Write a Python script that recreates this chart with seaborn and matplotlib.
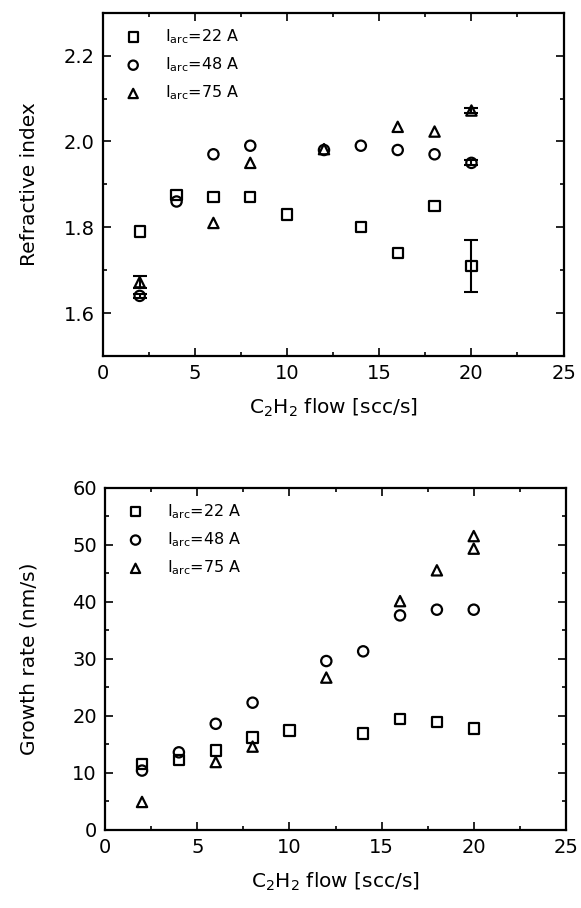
import numpy as np
import pandas as pd
import matplotlib
matplotlib.use("Agg")
import matplotlib.pyplot as plt
import seaborn as sns
from matplotlib.ticker import MultipleLocator

# Данные
flow_22 = [2, 4, 6, 8, 10, 14, 16, 18, 20]
n_22 = [1.79, 1.875, 1.87, 1.87, 1.83, 1.80, 1.74, 1.85, 1.71]
n_22_err = [0, 0, 0, 0, 0, 0, 0, 0, 0.06]
gr_22 = [11.6, 12.3, 13.9, 16.2, 17.4, 16.9, 19.4, 18.9, 17.8]

flow_48 = [2, 4, 6, 8, 12, 14, 16, 18, 20]
n_48 = [1.64, 1.86, 1.97, 1.99, 1.98, 1.99, 1.98, 1.97, 1.95]
n_48_err = [0.005, 0, 0, 0, 0, 0, 0, 0, 0.006]
gr_48 = [10.4, 13.6, 18.6, 22.3, 29.6, 31.3, 37.6, 38.6, 38.6]

flow_75 = [2, 6, 8, 12, 16, 18, 20]
n_75 = [1.672, 1.81, 1.95, 1.982, 2.034, 2.023, 2.072]
n_75_err = [0.014, 0, 0, 0, 0, 0, 0.006]

flow_75_gr = [2, 6, 8, 12, 16, 18, 20, 20]
gr_75 = [4.9, 11.9, 14.6, 26.7, 40.1, 45.5, 51.5, 49.3]

labels = [r"$\mathregular{I_{arc}}$=22 A",
          r"$\mathregular{I_{arc}}$=48 A",
          r"$\mathregular{I_{arc}}$=75 A"]
markers = ["s", "o", "^"]

sns.set_style("ticks")
plt.rcParams["font.family"] = ["DejaVu Sans"]
plt.rcParams["mathtext.default"] = "regular"
for key in ("text.color", "axes.labelcolor", "xtick.color", "ytick.color"):
    plt.rcParams[key] = "black"

fig = plt.figure(figsize=(5.81, 9.08), dpi=100)
ax1 = fig.add_axes([0.177, 0.608, 0.793, 0.378])
ax2 = fig.add_axes([0.181, 0.086, 0.793, 0.377])

mkw = dict(s=55, facecolor="none", edgecolor="black", linewidth=1.6, color="black")

# Верхний график — показатель преломления
top_sets = [(flow_22, n_22, n_22_err), (flow_48, n_48, n_48_err), (flow_75, n_75, n_75_err)]
for (x, y, e), m, lab in zip(top_sets, markers, labels):
    df = pd.DataFrame({"flow": x, "val": y})
    sns.scatterplot(data=df, x="flow", y="val", marker=m, label=lab, ax=ax1, **mkw)
    e = np.array(e)
    mask = e > 0
    ax1.errorbar(np.array(x)[mask], np.array(y)[mask], yerr=e[mask], fmt="none",
                 ecolor="black", elinewidth=1.5, capsize=5, capthick=1.5)

ax1.set_xlim(0, 25)
ax1.set_ylim(1.5, 2.3)
ax1.yaxis.set_major_locator(MultipleLocator(0.2))
ax1.yaxis.set_minor_locator(MultipleLocator(0.1))
ax1.set_ylabel("Refractive index", fontsize=14.5, labelpad=18)

# Нижний график — скорость роста
bot_sets = [(flow_22, gr_22), (flow_48, gr_48), (flow_75_gr, gr_75)]
for (x, y), m, lab in zip(bot_sets, markers, labels):
    df = pd.DataFrame({"flow": x, "val": y})
    sns.scatterplot(data=df, x="flow", y="val", marker=m, label=lab, ax=ax2, **mkw)

ax2.set_xlim(0, 25)
ax2.set_ylim(0, 60)
ax2.yaxis.set_major_locator(MultipleLocator(10))
ax2.yaxis.set_minor_locator(MultipleLocator(5))
ax2.set_ylabel("Growth rate (nm/s)", fontsize=14.5, labelpad=24)

for ax in (ax1, ax2):
    ax.xaxis.set_major_locator(MultipleLocator(5))
    ax.xaxis.set_minor_locator(MultipleLocator(2.5))
    ax.set_xlabel(r"C$_2$H$_2$ flow [scc/s]", fontsize=14.5, labelpad=10)
    ax.tick_params(which="both", direction="in", top=True, right=True,
                   labelsize=14, width=1.2, pad=6)
    ax.tick_params(which="major", length=6)
    ax.tick_params(which="minor", length=3)
    for sp in ax.spines.values():
        sp.set_linewidth(1.6)
        sp.set_color("black")
    ax.legend(loc="upper left", frameon=False, fontsize=11.5, handletextpad=1.0,
              labelspacing=0.6, borderaxespad=0.6, borderpad=0.3,
              markerscale=0.9)

fig.savefig("out.png", dpi=100)
